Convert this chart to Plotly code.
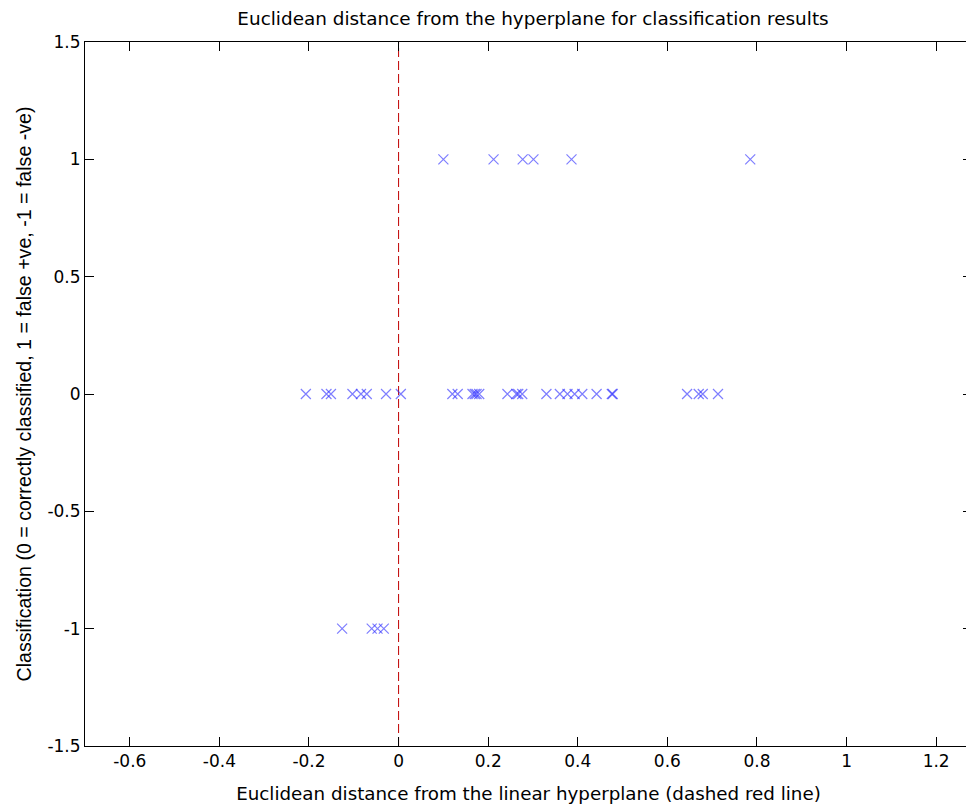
import plotly.graph_objects as go

# Classification = 1 (false +ve)
x_pos = [0.100, 0.212, 0.277, 0.301, 0.386, 0.785]
# Classification = 0 (correctly classified)
x_zero = [-0.207, -0.161, -0.151, -0.103, -0.084, -0.071, -0.028, 0.005,
          0.120, 0.132, 0.165, 0.170, 0.174, 0.180, 0.243, 0.263, 0.267, 0.276,
          0.330, 0.360, 0.377, 0.393, 0.410, 0.442, 0.476, 0.478,
          0.644, 0.670, 0.679, 0.713]
# Classification = -1 (false -ve)
x_neg = [-0.126, -0.060, -0.047, -0.033]

xs = x_pos + x_zero + x_neg
ys = [1] * len(x_pos) + [0] * len(x_zero) + [-1] * len(x_neg)

x_ticks = [-0.6, -0.4, -0.2, 0, 0.2, 0.4, 0.6, 0.8, 1, 1.2]
x_tick_labels = ["-0.6", "-0.4", "-0.2", "0", "0.2", "0.4", "0.6", "0.8", "1", "1.2"]
y_ticks = [-1.5, -1, -0.5, 0, 0.5, 1, 1.5]
y_tick_labels = ["-1.5", "-1", "-0.5", "0", "0.5", "1", "1.5"]

hyperplane_x = [0, 0]
hyperplane_y = [-1.5, 1.5]

fig = go.Figure()
fig.add_trace(go.Scatter(
    x=hyperplane_x, y=hyperplane_y, mode="lines",
    line=dict(color="#c00000", width=1, dash="9px,4px"),
    showlegend=False, hoverinfo="skip"))
fig.add_trace(go.Scatter(
    x=xs, y=ys, mode="markers",
    marker=dict(symbol="x-thin", size=10, line=dict(color="rgba(40,40,255,0.6)", width=1.2)),
    showlegend=False))

font_family = "DejaVu Sans, Verdana, sans-serif"
fig.update_layout(
    width=966, height=802,
    margin=dict(l=77, r=2, t=34, b=64),
    paper_bgcolor="white", plot_bgcolor="white",
    font=dict(family=font_family, color="black", size=17),
    title=dict(text="Euclidean distance from the hyperplane for classification results",
               x=0.5435, xanchor="center", xref="container",
               y=0.995, yanchor="top", yref="container", pad=dict(t=0, b=0, l=0, r=0),
               font=dict(size=18.4, family=font_family)),
    xaxis=dict(range=[-0.7, 1.28], tickvals=x_ticks, ticktext=x_tick_labels,
               ticks="inside", ticklen=9, tickcolor="black", mirror="ticks",
               showline=True, linecolor="black", linewidth=1, showgrid=False,
               zeroline=False, tickfont=dict(size=17), automargin=False,
               title=dict(text="Euclidean distance from the linear hyperplane (dashed red line)",
                          font=dict(size=18.3), standoff=16)),
    yaxis=dict(range=[-1.5, 1.5], tickvals=y_ticks, ticktext=y_tick_labels,
               ticks="inside", ticklen=9, tickcolor="black", mirror="ticks",
               showline=True, linecolor="black", linewidth=1, showgrid=False,
               zeroline=False, tickfont=dict(size=17), automargin=False,
               title=dict(text="Classification (0 = correctly classified, 1 = false +ve, -1 = false -ve)",
                          font=dict(size=19.6, family="Liberation Sans, Arial, sans-serif"),
                          standoff=10)),
)

fig.write_html("out.html")
